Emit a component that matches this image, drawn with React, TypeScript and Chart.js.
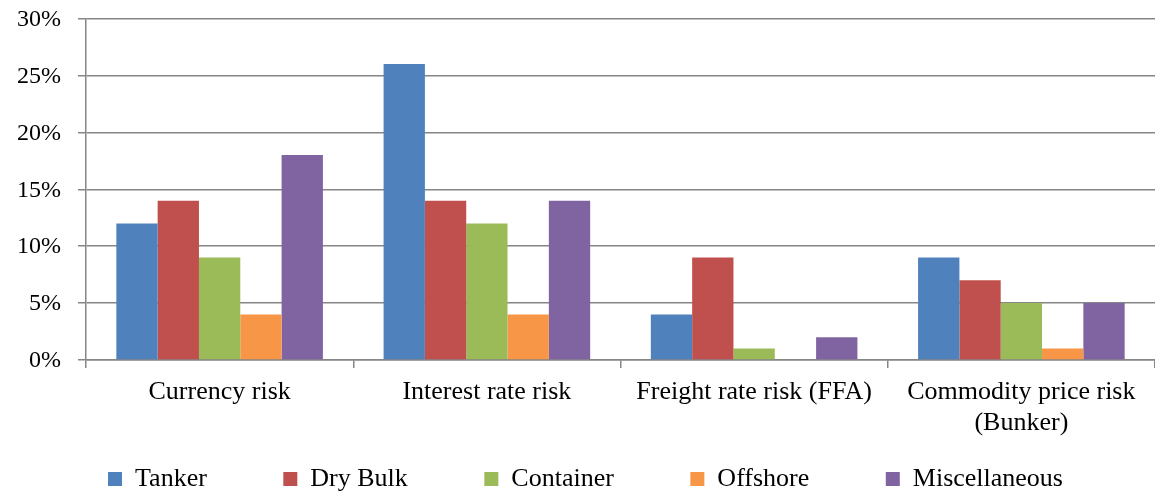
import React, { useEffect, useRef } from 'react';
import { Chart, registerables } from 'chart.js';

Chart.register(...registerables);

const categories: string[][] = [
  ['Currency risk'],
  ['Interest rate risk'],
  ['Freight rate risk (FFA)'],
  ['Commodity price risk', '(Bunker)'],
];
const tanker = [12, 26, 4, 9];
const dryBulk = [14, 14, 9, 7];
const container = [9, 12, 1, 5];
const offshore = [4, 4, 0, 1];
const miscellaneous = [18, 14, 2, 5];
const yMin = 0;
const yMax = 30;
const yStep = 5;

const FAMILY = "'Liberation Serif', 'Times New Roman', serif";
const GRID = '#868686';

export default function App() {
  const ref = useRef<HTMLCanvasElement | null>(null);

  useEffect(() => {
    document.body.style.margin = '0';
    const canvas = ref.current;
    if (!canvas) return;
    const chart = new Chart(canvas, {
      type: 'bar',
      data: {
        labels: categories,
        datasets: [
          { label: 'Tanker', data: tanker, backgroundColor: '#4F81BD', borderWidth: 0 },
          { label: 'Dry Bulk', data: dryBulk, backgroundColor: '#C0504D', borderWidth: 0 },
          { label: 'Container', data: container, backgroundColor: '#9BBB59', borderWidth: 0 },
          { label: 'Offshore', data: offshore, backgroundColor: '#F79646', borderWidth: 0 },
          { label: 'Miscellaneous', data: miscellaneous, backgroundColor: '#8064A2', borderWidth: 0 },
        ],
      },
      options: {
        animation: false,
        responsive: false,
        devicePixelRatio: 1,
        datasets: { bar: { categoryPercentage: 0.773, barPercentage: 1 } },
        layout: { padding: { left: 16, right: 0, top: 18.5, bottom: -9.9 } },
        plugins: {
          legend: {
            position: 'bottom',
            labels: {
              boxWidth: 14,
              boxHeight: 14,
              padding: 76.5,
              color: '#000',
              font: { size: 26, family: FAMILY },
            },
          },
          tooltip: { enabled: false },
        },
        scales: {
          x: {
            offset: true,
            grid: {
              offset: true,
              drawOnChartArea: false,
              drawTicks: true,
              tickLength: 8,
              color: GRID,
              lineWidth: 1.5,
            },
            border: { display: true, color: GRID, width: 1.5 },
            ticks: {
              color: '#000',
              font: { size: 26, family: FAMILY, lineHeight: 1.22 },
              padding: -47.76,
              mirror: true,
              maxRotation: 0,
              minRotation: 0,
              autoSkip: false,
            },
            afterFit: (s: any) => {
              s.height = 29.4;
              s.paddingLeft = 0;
              s.paddingRight = 0;
            },
          },
          y: {
            min: yMin,
            max: yMax,
            ticks: {
              stepSize: yStep,
              color: '#000',
              font: { size: 24, family: FAMILY },
              padding: 17,
              labelOffset: 1,
              callback: (v: any) => `${v}%`,
            },
            grid: { color: GRID, lineWidth: 1.5, tickLength: 8, drawTicks: true },
            border: { display: true, color: GRID, width: 1.5 },
            afterFit: (s: any) => {
              s.width = 70;
              s.paddingTop = 0;
              s.paddingBottom = 0;
            },
          },
        },
      } as any,
    });
    return () => chart.destroy();
  }, []);

  return (
    <div style={{ position: 'fixed', left: 0, top: 0, width: 1155, height: 492, background: '#fff' }}>
      <canvas ref={ref} width={1155} height={492} style={{ display: 'block' }} />
    </div>
  );
}
